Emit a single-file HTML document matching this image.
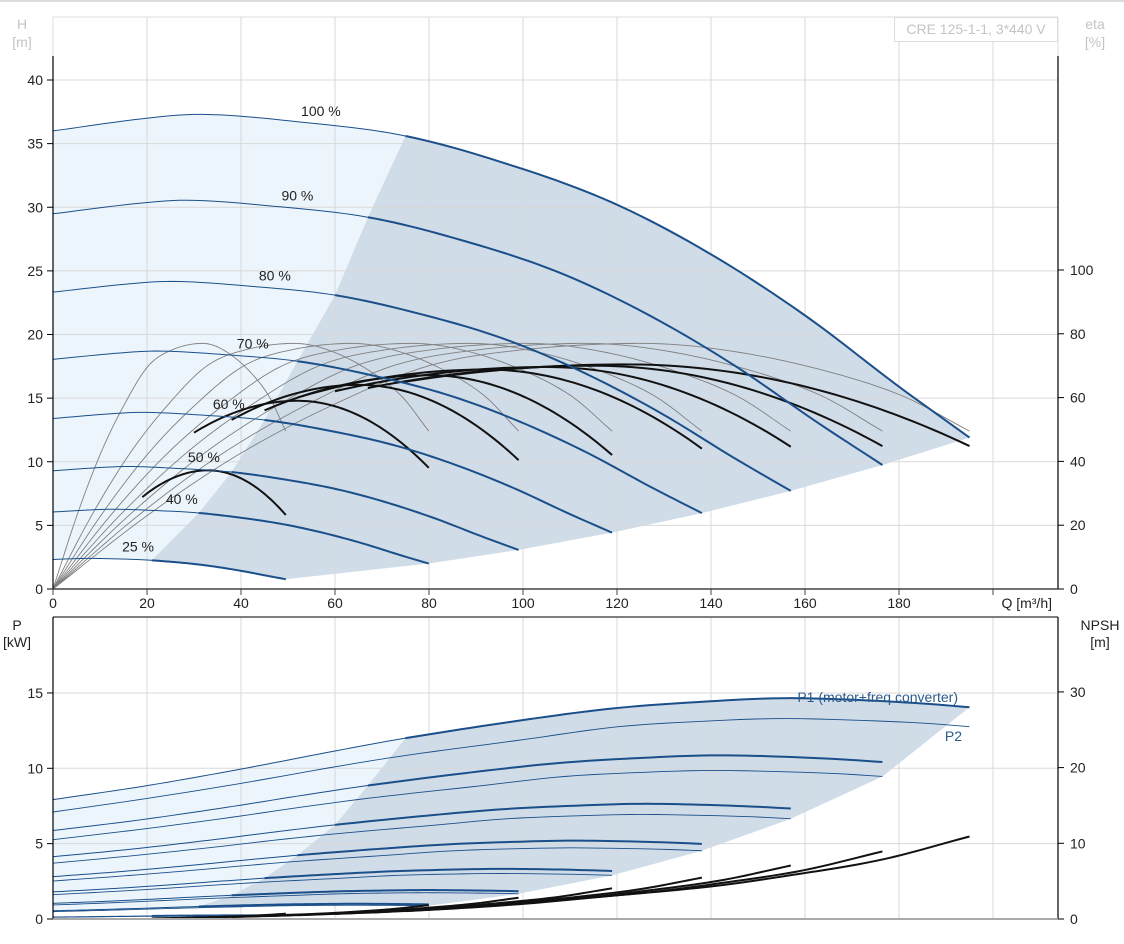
<!DOCTYPE html>
<html><head><meta charset="utf-8"><style>
html,body{margin:0;padding:0;background:#fff;}
svg{display:block;font-family:"Liberation Sans",sans-serif;}
</style></head><body>
<svg id="chart" width="1124" height="944" viewBox="0 0 1124 944">
<g id="g-bg"></g>
<g id="g-grid"></g>
<g id="g-curves"></g>
<g id="g-axes"></g>
</svg>
<script>
// ---------- data ----------
const speedLabels = ["100 %","90 %","80 %","70 %","60 %","50 %","40 %","25 %"];
const speedFactors = [1, 0.905, 0.805, 0.708, 0.61, 0.508, 0.41, 0.254];
const labelQ = [57, 52, 47.2, 42.5, 37.4, 32.1, 27.4, 18.1];
const thickStartQ = [75, 67, 60, 52, 45, 38, 31, 21];
const baseQ = [0, 20, 32, 50, 75, 100, 120, 140, 160, 180, 195];
const baseH = [36, 37.0, 37.3, 36.8, 35.6, 33.0, 30.2, 26.3, 21.5, 15.9, 11.9];
const etaQ = [0, 20, 40, 60, 80, 100, 124, 140, 160, 180, 195];
const etaPump = [0, 23, 42.6, 58, 70, 75, 77, 75.5, 70, 61, 49.5];
const totStartQ = [75, 67, 60, 52, 45, 38, 30, 19];
const totStartEta = [65, 63, 62, 60, 56, 53, 49, 28.8];
const totPeakQ = [122, 115, 105, 92, 80, 65, 52, 33];
const totPeakEta = [70.4, 70, 69.6, 68.8, 67, 64, 59, 37.2];
const totEndEta = [44.8, 44.8, 44.6, 44, 42, 40.4, 38, 23.2];
const powQ = [0, 20, 40, 60, 75, 100, 120, 140, 155, 170, 185, 195];
const powP1 = [7.92, 8.85, 9.95, 11.15, 12.0, 13.2, 14.0, 14.45, 14.65, 14.55, 14.3, 14.05];
const powP2 = [7.1, 8.0, 9.0, 10.1, 10.85, 11.9, 12.75, 13.15, 13.3, 13.2, 13.0, 12.76];
const npshQ = [0, 40, 60, 80, 100, 116, 140, 155, 176, 195];
const npshVal = [0.3, 0.5, 0.7, 1.2, 2.0, 2.9, 4.3, 5.6, 7.8, 10.9];
const qTicks = [0, 20, 40, 60, 80, 100, 120, 140, 160, 180];
const hTicks = [0, 5, 10, 15, 20, 25, 30, 35, 40];
const etaTicks = [0, 20, 40, 60, 80, 100];
const pTicks = [0, 5, 10, 15];
const nTicks = [0, 10, 20, 30];
const qMax = 195;

// ---------- scales ----------
const xQ = q => 53 + q * 4.7;
const yH = h => 589 - h * 12.725;
const yE = e => 589 - e * 3.19;
const yP = p => 919 - p * 15.07;
const yN = n => 919 - n * 7.57;

const NS = "http://www.w3.org/2000/svg";
function mk(tag, parent, attrs) {
  const el = document.createElementNS(NS, tag);
  for (const k in attrs) el.setAttribute(k, attrs[k]);
  parent.appendChild(el);
  return el;
}
function interp(xs, ys, x) {
  const n = xs.length;
  if (x <= xs[0]) return ys[0] + (ys[1]-ys[0])/(xs[1]-xs[0])*(x-xs[0]);
  if (x >= xs[n-1]) return ys[n-1] + (ys[n-1]-ys[n-2])/(xs[n-1]-xs[n-2])*(x-xs[n-1]);
  let i = 0; while (x > xs[i+1]) i++;
  const slope = j => {
    if (j === 0) return (ys[1]-ys[0])/(xs[1]-xs[0]);
    if (j === n-1) return (ys[n-1]-ys[n-2])/(xs[n-1]-xs[n-2]);
    return (ys[j+1]-ys[j-1])/(xs[j+1]-xs[j-1]);
  };
  const h = xs[i+1]-xs[i], t = (x-xs[i])/h;
  const m0 = slope(i)*h, m1 = slope(i+1)*h;
  const t2 = t*t, t3 = t2*t;
  return (2*t3-3*t2+1)*ys[i] + (t3-2*t2+t)*m0 + (-2*t3+3*t2)*ys[i+1] + (t3-t2)*m1;
}
const Hs = (i, q) => { const s = speedFactors[i]; return s*s*interp(baseQ, baseH, q/s); };
const Es = (i, q) => interp(etaQ, etaPump, q/speedFactors[i]);
const P1s = (i, q) => { const s = speedFactors[i]; return s*s*s*interp(powQ, powP1, q/s); };
const P2s = (i, q) => { const s = speedFactors[i]; return s*s*s*interp(powQ, powP2, q/s); };
const Ns = (i, q) => { const s = speedFactors[i]; return s*s*interp(npshQ, npshVal, q/s); };
const endQ = i => qMax * speedFactors[i];
function totEta(i, q) {
  const qp = totPeakQ[i], ep = totPeakEta[i];
  if (q <= qp) { const a = (ep - totStartEta[i]) / Math.pow(qp - totStartQ[i], 2); return ep - a*(q-qp)*(q-qp); }
  const a = (ep - totEndEta[i]) / Math.pow(endQ(i) - qp, 2); return ep - a*(q-qp)*(q-qp);
}
function pathFn(f, ys, q0, q1, n) {
  let d = "";
  for (let k = 0; k <= n; k++) { const q = q0 + (q1-q0)*k/n; d += (k ? "L" : "M") + xQ(q).toFixed(2) + "," + ys(f(q)).toFixed(2); }
  return d;
}
function ptsFn(f, ys, q0, q1, n, rev) {
  const a = [];
  for (let k = 0; k <= n; k++) { const q = q0 + (q1-q0)*k/n; a.push([xQ(q), ys(f(q))]); }
  if (rev) a.reverse();
  return a;
}
const poly = a => a.map(p => p[0].toFixed(2)+","+p[1].toFixed(2)).join(" ");

const gBg = document.getElementById("g-bg");
const gGrid = document.getElementById("g-grid");
const gC = document.getElementById("g-curves");
const gA = document.getElementById("g-axes");
const last = speedFactors.length - 1;

// ---------- backgrounds (top) ----------
{
  const left = [];
  for (let i = last; i >= 0; i--) left.push([xQ(thickStartQ[i]), yH(Hs(i, thickStartQ[i]))]);
  let lb = [[xQ(0), yH(Hs(last, 0))]].concat(ptsFn(q => Hs(last, q), yH, 0, thickStartQ[last], 20));
  lb = lb.concat(left.slice(1)).concat(ptsFn(q => Hs(0, q), yH, thickStartQ[0], 0, 40));
  const lf = mk("polygon", gBg, {points: poly(lb), fill: "#edf5fc"});
  
  
  let gr = left.concat(ptsFn(q => Hs(0, q), yH, thickStartQ[0], endQ(0), 60));
  for (let i = 1; i <= last; i++) gr.push([xQ(endQ(i)), yH(Hs(i, endQ(i)))]);
  gr = gr.concat(ptsFn(q => Hs(last, q), yH, endQ(last), thickStartQ[last], 20));
  const gf = mk("polygon", gBg, {points: poly(gr), fill: "#d0dce8"});
  
  
}
// ---------- backgrounds (bottom) ----------
{
  const lowI = 6;
  const left = [];
  for (let i = lowI; i >= 0; i--) left.push([xQ(thickStartQ[i]), yP(P1s(i, thickStartQ[i]))]);
  let lb = [[xQ(0), yP(P1s(lowI, 0))]].concat(ptsFn(q => P1s(lowI, q), yP, 0, thickStartQ[lowI], 10));
  lb = lb.concat(left.slice(1)).concat(ptsFn(q => P1s(0, q), yP, thickStartQ[0], 0, 40));
  const lf = mk("polygon", gBg, {points: poly(lb), fill: "#edf5fc"});
  
  
  let gr = left.concat(ptsFn(q => P1s(0, q), yP, thickStartQ[0], endQ(0), 60));
  for (let i = 1; i <= lowI; i++) gr.push([xQ(endQ(i)), yP(P2s(i, endQ(i)))]);
  const gf = mk("polygon", gBg, {points: poly(gr), fill: "#d0dce8"});
  
  
}

// ---------- grid ----------
const gridQ = qTicks.concat([200]);
gridQ.forEach(q => {
  const v1 = mk("line", gGrid, {x1: xQ(q), x2: xQ(q), y1: 17, y2: 589, stroke: "#d8d8d8", "stroke-width": 1});
  
  
  const v2 = mk("line", gGrid, {x1: xQ(q), x2: xQ(q), y1: 617, y2: 919, stroke: "#d8d8d8", "stroke-width": 1});
  
  
});
hTicks.forEach(h => {
  const l = mk("line", gGrid, {x1: 53, x2: 1058, y1: yH(h), y2: yH(h), stroke: "#d8d8d8", "stroke-width": 1});
  
  
});
pTicks.forEach(p => {
  const l = mk("line", gGrid, {x1: 53, x2: 1058, y1: yP(p), y2: yP(p), stroke: "#d8d8d8", "stroke-width": 1});
  
  
});

// ---------- curves ----------
speedFactors.forEach((s, i) => {
  const p = mk("path", gC, {d: pathFn(q => Es(i, q), yE, 0, endQ(i), 80), fill: "none", stroke: "#808080", "stroke-width": 0.9});
  
  
});
speedFactors.forEach((s, i) => {
  const p = mk("path", gC, {d: pathFn(q => totEta(i, q), yE, totStartQ[i], endQ(i), 60), fill: "none", stroke: "#111", "stroke-width": 2});
  
  
});
speedFactors.forEach((s, i) => {
  const t = mk("path", gC, {d: pathFn(q => Hs(i, q), yH, 0, thickStartQ[i], 40), fill: "none", stroke: "#1a4f8a", "stroke-width": 1});
  
  
  const k = mk("path", gC, {d: pathFn(q => Hs(i, q), yH, thickStartQ[i], endQ(i), 60), fill: "none", stroke: "#1a4f8a", "stroke-width": 2});
  
  
  const lb = mk("text", gC, {x: xQ(labelQ[i]), y: yH(Hs(i, labelQ[i])) - 8, "text-anchor": "middle", "font-size": 14, fill: "#222"});
  lb.textContent = speedLabels[i];
  
  
});
speedFactors.forEach((s, i) => {
  const a = mk("path", gC, {d: pathFn(q => P2s(i, q), yP, 0, endQ(i), 60), fill: "none", stroke: "#1a4f8a", "stroke-width": 0.9});
  
  
  const b = mk("path", gC, {d: pathFn(q => P1s(i, q), yP, 0, thickStartQ[i], 40), fill: "none", stroke: "#1a4f8a", "stroke-width": 1});
  
  
  const c = mk("path", gC, {d: pathFn(q => P1s(i, q), yP, thickStartQ[i], endQ(i), 60), fill: "none", stroke: "#1a4f8a", "stroke-width": 2});
  
  
});
speedFactors.forEach((s, i) => {
  const p = mk("path", gC, {d: pathFn(q => Ns(i, q), yN, thickStartQ[i], endQ(i), 60), fill: "none", stroke: "#111", "stroke-width": 2});
  
  
});

// ---------- axes ----------
function line(x1, y1, x2, y2, c, w, name) {
  const l = mk("line", gA, {x1, y1, x2, y2, stroke: c, "stroke-width": w});
  
  
  return l;
}
function text(x, y, s, anchor, color, name, size) {
  const t = mk("text", gA, {x, y, "text-anchor": anchor, "font-size": size || 14, fill: color});
  t.textContent = s;
  
  
  return t;
}
line(0, 1, 1124, 1, "#d0d0d0", 1.5, "top-border");
line(53, 17, 1058, 17, "#dddddd", 1, "head-plot-top-border");
line(53, 17, 53, 56, "#dddddd", 1, "head-plot-left-border-upper");
line(1058, 17, 1058, 56, "#dddddd", 1, "head-plot-right-border-upper");
line(53, 56, 53, 589, "#000", 1.2, "head-y-axis");
line(1058, 56, 1058, 589, "#000", 1.2, "eta-y-axis");
line(53, 589, 1058, 589, "#444", 1.5, "q-axis");
hTicks.forEach(h => { line(47, yH(h), 53, yH(h), "#000", 1, "head-tick"); text(43, yH(h)+5, String(h), "end", "#222", "head-tick-label"); });
etaTicks.forEach(e => { line(1058, yE(e), 1064, yE(e), "#000", 1, "eta-tick"); text(1070, yE(e)+5, String(e), "start", "#222", "eta-tick-label"); });
qTicks.forEach(q => { line(xQ(q), 589, xQ(q), 595, "#444", 1, "q-tick"); text(xQ(q), 608, String(q), "middle", "#222", "q-tick-label"); });
line(xQ(200), 589, xQ(200), 595, "#444", 1, "q-tick");
text(1052, 608, "Q [m³/h]", "end", "#222", "q-axis-title");
text(22, 29, "H", "middle", "#c4c4c4", "head-axis-title");
text(22, 47, "[m]", "middle", "#c4c4c4", "head-axis-unit");
text(1095, 29, "eta", "middle", "#c4c4c4", "eta-axis-title");
text(1095, 47, "[%]", "middle", "#c4c4c4", "eta-axis-unit");
{
  const r = mk("rect", gA, {x: 894.5, y: 17.5, width: 163, height: 24, fill: "#fff", stroke: "#dcdcdc", "stroke-width": 1});
  
  
  text(976, 34, "CRE 125-1-1, 3*440 V", "middle", "#c4c4c4", "legend-text");
}
line(53, 617, 1058, 617, "#555", 1.5, "power-plot-top-border");
line(53, 617, 53, 919, "#000", 1.2, "power-y-axis");
line(1058, 617, 1058, 919, "#000", 1.2, "npsh-y-axis");
line(53, 919, 1058, 919, "#aaa", 2, "power-x-axis");
pTicks.forEach(p => { line(47, yP(p), 53, yP(p), "#000", 1, "power-tick"); text(43, yP(p)+5, String(p), "end", "#222", "power-tick-label"); });
nTicks.forEach(n => { line(1058, yN(n), 1064, yN(n), "#000", 1, "npsh-tick"); text(1070, yN(n)+5, String(n), "start", "#222", "npsh-tick-label"); });
text(17, 630, "P", "middle", "#222", "power-axis-title");
text(17, 647, "[kW]", "middle", "#222", "power-axis-unit");
text(1100, 630, "NPSH", "middle", "#222", "npsh-axis-title");
text(1100, 647, "[m]", "middle", "#222", "npsh-axis-unit");
text(958, 702, "P1 (motor+freq converter)", "end", "#2a5a8c", "p1-label");
text(962, 741, "P2", "end", "#2a5a8c", "p2-label");
</script>
</body></html>
